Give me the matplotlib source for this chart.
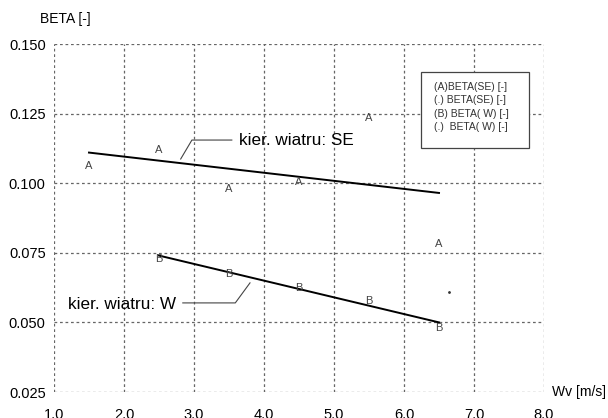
import matplotlib
matplotlib.use("Agg")
import matplotlib.pyplot as plt
from matplotlib.patches import Rectangle

plt.rcParams['font.family'] = ['Liberation Sans', 'DejaVu Sans']

# Wind speed [m/s] and measured BETA for the two wind directions
wv_se = [1.5, 2.5, 3.5, 4.5, 5.5, 6.5]
beta_se = [0.1062, 0.1119, 0.0979, 0.1004, 0.1234, 0.0782]
wv_w = [2.5, 3.5, 4.5, 5.5, 6.5]
beta_w = [0.0728, 0.0674, 0.0624, 0.0577, 0.0480]
# fitted trend lines (end points)
fit_se_x = [1.5, 6.5]
fit_se_y = [0.1110, 0.0965]
fit_w_x = [2.5, 6.5]
fit_w_y = [0.0740, 0.0500]
# stray "." point of the (.) series
dot_x = [6.64]
dot_y = [0.0609]

x_ticks = [1.0, 2.0, 3.0, 4.0, 5.0, 6.0, 7.0, 8.0]
y_ticks = [0.025, 0.050, 0.075, 0.100, 0.125, 0.150]
legend_lines = ["(A)BETA(SE) [-]", "(.) BETA(SE) [-]", "(B) BETA( W) [-]", "(.)  BETA( W) [-]"]

# annotation callouts
se_label = "kier. wiatru: SE"
se_text_pos = (3.64, 0.1155)
se_leader_x = [3.54, 2.97, 2.81]
se_leader_y = [0.1155, 0.1155, 0.1087]
w_label = "kier. wiatru: W"
w_text_pos = (1.2, 0.0565)
w_leader_x = [2.84, 3.59, 3.80]
w_leader_y = [0.0570, 0.0570, 0.0642]

fig = plt.figure(figsize=(6.08, 4.18), dpi=100)
ax = fig.add_axes([54 / 608, 1 - 392 / 418, 490 / 608, 348 / 418])
ax.set_xlim(1.0, 8.0)
ax.set_ylim(0.025, 0.150)

grid_kw = dict(color='#666666', lw=0.9, ls=(0, (2.2, 2.2)), zorder=1)
for x in x_ticks:
    ax.axvline(x, **grid_kw)
for y in y_ticks:
    ax.axhline(y, **grid_kw)
for s in ax.spines.values():
    s.set_visible(False)

ax.set_xticks(x_ticks)
ax.set_xticklabels([f"{v:.1f}" for v in x_ticks])
ax.set_yticks(y_ticks)
ax.set_yticklabels([f"{v:.3f}" for v in y_ticks])
ax.tick_params(length=0, labelsize=10.5, colors='black')
ax.tick_params(axis='x', pad=11.5)
ax.tick_params(axis='y', pad=6)

# fitted lines
ax.plot(fit_se_x, fit_se_y, color='black', lw=1.4, zorder=2)
ax.plot(fit_w_x, fit_w_y, color='black', lw=1.4, zorder=2)

# letter markers
for x, y in zip(wv_se, beta_se):
    ax.text(x, y, "A", ha='center', va='center', fontsize=8, color='#444444', zorder=3)
for x, y in zip(wv_w, beta_w):
    ax.text(x, y, "B", ha='center', va='center', fontsize=8, color='#444444', zorder=3)
ax.plot(dot_x, dot_y, ls='none', marker='.', ms=2, color='#333333')

# callouts
ax.text(*se_text_pos, se_label, ha='left', va='center', fontsize=12.3)
ax.plot(se_leader_x, se_leader_y, color='#444444', lw=0.8)
ax.text(*w_text_pos, w_label, ha='left', va='center', fontsize=12.3)
ax.plot(w_leader_x, w_leader_y, color='#444444', lw=0.8)

# legend box
ax.add_patch(Rectangle((0.749, 0.701), 0.220, 0.2185, transform=ax.transAxes,
                       facecolor='white', edgecolor='#444444', lw=0.9, zorder=4))
for i, line in enumerate(legend_lines):
    ax.text(0.7755, 0.876 - i * 0.038, line, transform=ax.transAxes,
            ha='left', va='center', fontsize=7.5, color='#333333', zorder=5)

# axis titles
fig.text(40 / 608, 1 - 19 / 418, "BETA [-]", ha='left', va='center', fontsize=10)
fig.text(552 / 608, 1 - 392 / 418, "Wv [m/s]", ha='left', va='center', fontsize=10)

fig.savefig("out.png", dpi=100)
